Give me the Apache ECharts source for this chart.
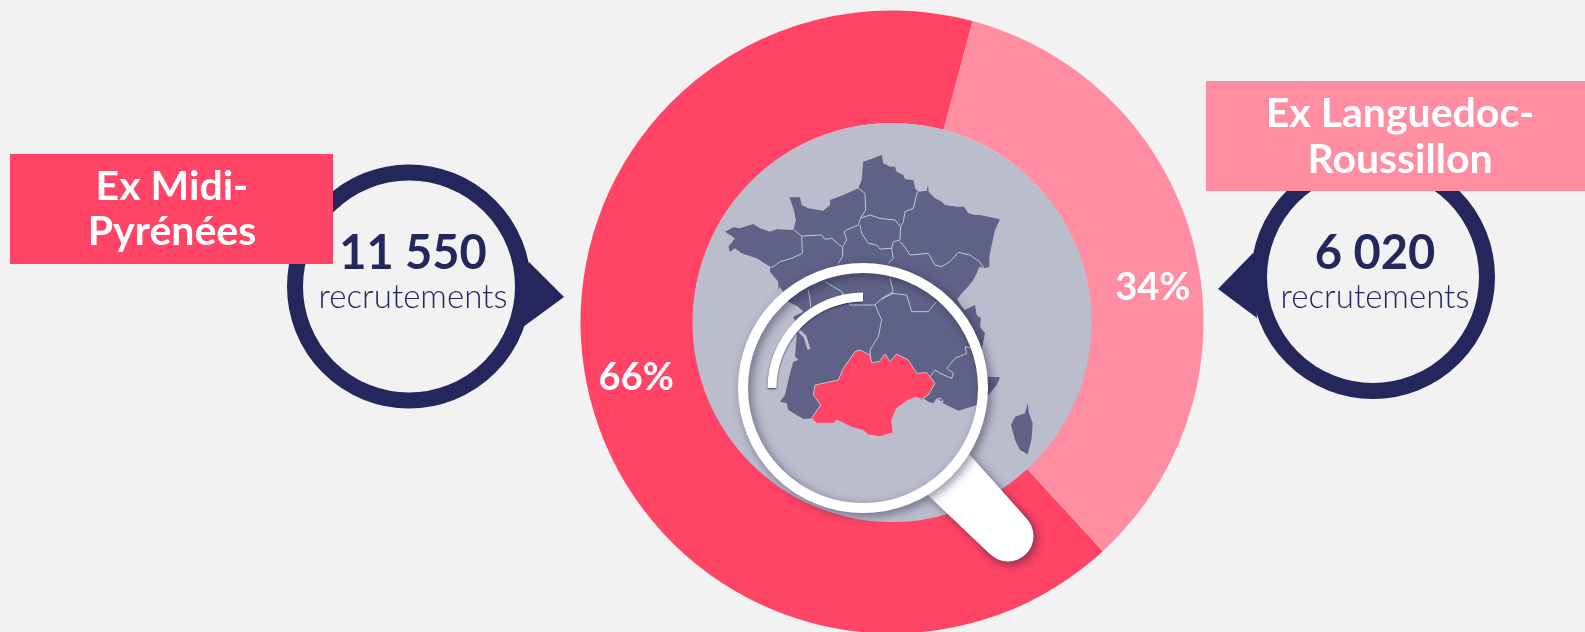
<!DOCTYPE html>
<html><head><meta charset="utf-8">
<style>html,body{margin:0;padding:0;background:#F2F2F2}#c{width:1585px;height:632px}</style>
<script src="https://cdn.jsdelivr.net/npm/echarts@6/dist/echarts.min.js"></script>
</head><body><div id="c"></div>
<script>
const categories = ["Ex Midi-Pyrénées", "Ex Languedoc-Roussillon"];
const shares = [66, 34];
const recruitments = [11550, 6020];
const unitLabel = "recrutements";
const RED = "#FF4465", PINK = "#FF8EA2", NAVY = "#24265C", MAP = "#5F6186", DISK = "#BBBCCC", LINE = "#C3C4D4";

const fmt = v => String(v).replace(/\B(?=(\d{3})+$)/g, " ");
const FONT = "Lato, 'Noto Sans', sans-serif";

// Decorative map artwork (traced), each piece in its own crop space of the reference
const crop = (ox, oy) => a => a.map(p => [ox + p[0] / 3, oy + p[1] / 3]);
const cA = crop(720,150), cB = crop(860,150), cC = crop(780,340), cD = crop(900,290), z1 = crop(680,120), z2 = crop(720,260);

const franceShape = [].concat(
  cB([[10,35],[40,25],[65,15],[70,40],[90,50],[105,50],[110,65],[130,75],[135,88],[160,90],[165,115],[175,125],[200,122],[204,105],[206,125],[225,145],[245,155],[255,165],[290,170],[312,170],[325,190],[345,195],[360,195],[385,200],[420,208],[405,240],[395,285],[388,320],[388,350],[372,355],[358,350],[350,370],[340,390],[320,415],[305,430],[290,450]]),
  cD([[170,25],[185,50],[195,60],[225,45],[230,75],[243,85],[240,110],[255,130],[250,155],[245,180],[250,230],[263,260],[300,262],[290,285],[265,315],[232,345],[200,355],[175,362],[150,350],[130,340],[110,325],[100,340],[85,335],[70,325]]),
  cC([[425,180],[410,172],[385,180],[350,205],[335,240],[340,278],[300,290],[265,285],[250,272],[215,262],[170,240],[160,250],[110,250],[95,235],[70,237],[25,210],[20,190],[0,185],[15,165],[30,100],[40,65],[55,60],[45,48]]),
  z1([[352,625],[340,590],[370,575],[355,560],[325,545],[300,500]]),
  cA([[175,420],[175,395],[150,365],[150,350],[110,325],[65,310],[45,295],[30,305],[25,290],[45,265],[15,245],[40,232],[60,235],[100,222],[120,235],[150,245],[170,238],[220,240],[228,210],[220,175],[208,142],[240,142],[245,165],[265,175],[310,182],[330,165],[330,150],[370,135],[415,115],[425,90],[430,30]])
);
const languedocShape = cC([[105,135],[175,120],[190,85],[225,35],[240,30],[270,45],[275,68],[298,65],[315,42],[330,65],[350,42],[385,60],[410,100],[440,98],[465,130],[445,165],[425,178],[410,172],[385,180],[350,205],[335,240],[340,278],[300,290],[265,285],[250,272],[215,262],[170,240],[160,250],[110,250],[95,235],[122,195],[100,165]]);
const corsicaShape = cD([[383,340],[387,370],[398,400],[395,445],[383,493],[360,480],[345,450],[333,405],[345,380],[375,370]]);
const regionLines = [
  cA([[415,115],[435,130],[437,180],[420,208],[415,225],[380,240],[372,245],[380,270],[368,290]]),
  cA([[222,240],[245,258],[305,255],[315,268],[335,265],[365,290]]),
  cA([[245,258],[247,310],[215,325],[180,335],[160,350],[150,352]]),
  cA([[368,290],[368,320],[355,340]]),
  cA([[265,420],[270,450],[272,470]]),
  cA([[315,395],[340,410],[365,425],[375,450]]),
  cB([[0,205],[30,195],[60,205],[105,210],[122,230],[120,270],[100,275],[95,295],[100,325],[85,340]]),
  cB([[172,125],[160,175],[135,185],[130,215],[122,230]]),
  cB([[0,225],[5,250],[25,280],[50,285],[60,297],[95,295]]),
  cB([[120,275],[130,285],[150,315],[205,310],[225,345],[245,350],[270,335],[295,307],[330,315],[358,335],[372,355]]),
  cB([[90,385],[100,425],[65,445]]),
  z1([[490,520],[510,555],[585,555],[600,540],[640,520]]),
  z1([[585,555],[605,600],[595,650],[570,690],[572,725]]),
  z1([[635,520],[680,525],[695,575],[745,575],[770,545]]),
  cD([[90,260],[105,240],[120,250],[155,265],[160,250],[140,235],[165,205],[200,190],[195,170],[215,175]]),
  cD([[115,325],[120,335],[130,335],[122,325],[115,325]])
];
const girondeLine = z1([[350,625],[375,650],[387,688]]);

function bubble(cx, cy, tip, value, tx) {
  return [
    {type:'circle', z:20, shape:{cx,cy,r:114}, style:{fill:'none', stroke:NAVY, lineWidth:16}},
    {type:'polygon', z:20, shape:{points:tip}, style:{fill:NAVY}},
    {type:'text', z:22, x:tx, y:254, style:{text:fmt(value), fill:NAVY, font:"bold 47px "+FONT, textAlign:'center', textVerticalAlign:'middle'}},
    {type:'text', z:22, x:tx, y:297, style:{text:unitLabel, fill:NAVY, font:"300 33px "+FONT, textAlign:'center', textVerticalAlign:'middle'}}
  ];
}
function banner(x, y, w, h, color, lines, cx, ys) {
  const out = [{type:'rect', z:30, shape:{x,y,width:w,height:h}, style:{fill:color}}];
  lines.forEach((t,i)=>out.push({type:'text', z:31, x:cx, y:ys[i], style:{text:t, fill:'#fff', font:"bold 41px "+FONT, textAlign:'center', textVerticalAlign:'middle'}}));
  return out;
}
const lensX = 863, lensY = 388;
const shadow = {shadowBlur:10, shadowColor:'rgba(30,30,60,0.5)', shadowOffsetX:3, shadowOffsetY:3};

const graphic = [
  {type:'circle', z:5, shape:{cx:892,cy:322.5,r:199.5}, style:{fill:DISK}},
  {type:'polygon', z:6, shape:{points:franceShape}, style:{fill:MAP}},
  {type:'polygon', z:6, shape:{points:corsicaShape}, style:{fill:MAP}},
  {type:'polyline', z:7, shape:{points:girondeLine}, style:{fill:'none', stroke:DISK, lineWidth:3}},
  ...regionLines.map(p=>({type:'polyline', z:7, shape:{points:p}, style:{fill:'none', stroke:LINE, lineWidth:1}})),
  {type:'polygon', z:8, shape:{points:languedocShape}, style:{fill:RED, stroke:LINE, lineWidth:1}},
  {type:'polygon', z:10, shape:{points:[[968,453],[1026,518],[990,554],[928,495]]}, style:Object.assign({fill:'#fff'},shadow)},
  {type:'circle', z:10, shape:{cx:1008,cy:536,r:25.5}, style:Object.assign({fill:'#fff'},shadow)},
  {type:'polygon', z:11, shape:{points:[[968,453],[1026,518],[990,554],[928,495]]}, style:{fill:'#fff'}},
  {type:'circle', z:12, shape:{cx:lensX,cy:lensY,r:120}, style:Object.assign({fill:'none', stroke:'#fff', lineWidth:10},shadow)},
  {type:'arc', z:12, shape:{cx:lensX,cy:lensY,r:91,startAngle:Math.PI,endAngle:Math.PI*1.5,clockwise:true}, style:{fill:'none', stroke:'#fff', lineWidth:9, shadowBlur:2, shadowColor:'rgba(30,30,60,0.8)', shadowOffsetY:1}},
  ...bubble(409, 286.5, [[529,262],[564,297],[523,327]], recruitments[0], 413),
  ...bubble(1373, 277, [[1253,253],[1218,289],[1257,318]], recruitments[1], 1375),
  ...banner(10,154,323,110,RED,["Ex Midi-","Pyrénées"],172,[187,232]),
  ...banner(1206,81,379,110,PINK,["Ex Languedoc-","Roussillon"],1400,[114,160])
];

const chart = echarts.init(document.getElementById('c'), null, {renderer:'canvas'});
chart.setOption({
  backgroundColor:'#F2F2F2',
  animation:false,
  graphic,
  series:[{
    type:'pie', silent:true, center:[892,322], radius:[199,311.5], startAngle:312.6,
    clockwise:true, avoidLabelOverlap:false,
    data: categories.map((name,i)=>({name, value:shares[i], itemStyle:{color:i===0?RED:PINK}})),
    label:{position:'inside', formatter:'{c}%', color:'#fff', fontFamily:FONT, fontWeight:'bold', fontSize:38},
    labelLine:{show:false},
    labelLayout:p=>p.dataIndex===0?{dx:-5,dy:-6}:{dx:10,dy:27}
  }]
});
</script></body></html>
